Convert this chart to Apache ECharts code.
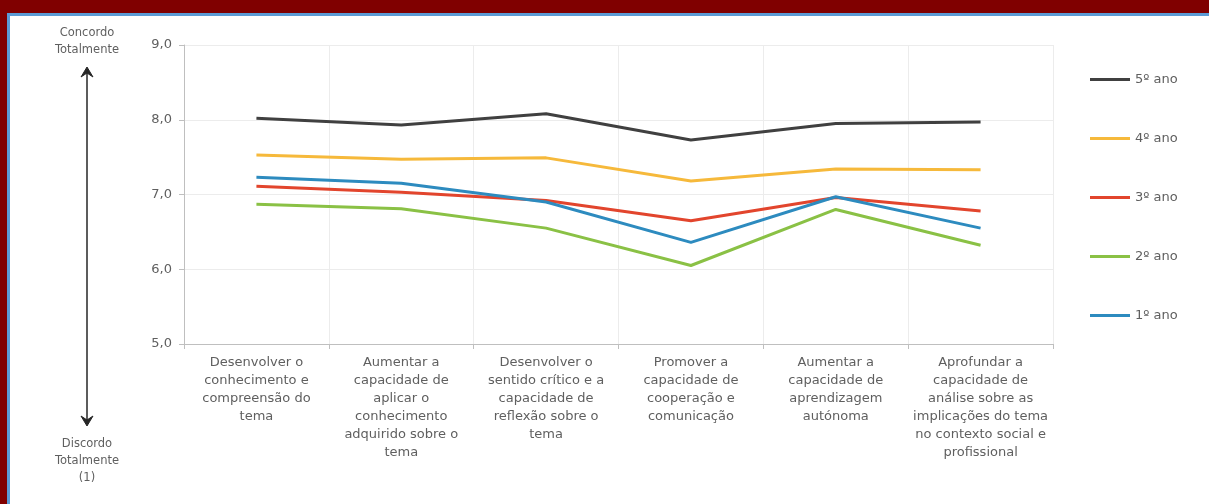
<!DOCTYPE html>
<html>
<head>
<meta charset="utf-8">
<script src="https://cdn.jsdelivr.net/npm/echarts@6/dist/echarts.min.js"></script>
<style>
  html, body { margin: 0; padding: 0; background: #ffffff; }
  #frame { position: absolute; left: 0; top: 0; width: 1209px; height: 504px; background: #ffffff; }
  #topbar { position: absolute; left: 0; top: 0; width: 1209px; height: 13px; background: #800000; }
  #topline { position: absolute; left: 7px; top: 13px; width: 1202px; height: 3px; background: #5b9bd5; }
  #leftbar { position: absolute; left: 0; top: 0; width: 7px; height: 504px; background: #800000; }
  #leftline { position: absolute; left: 7px; top: 13px; width: 3px; height: 491px; background: #5b9bd5; }
  #chart { position: absolute; left: 0; top: 0; width: 1209px; height: 504px; }
</style>
</head>
<body>
<div id="frame">
  <div id="chart"></div>
  <div id="topbar"></div>
  <div id="leftbar"></div>
  <div id="topline"></div>
  <div id="leftline"></div>
</div>
<script>
// Survey items (x axis)
const categories = [
  'Desenvolver o\nconhecimento e\ncompreensão do\ntema',
  'Aumentar a\ncapacidade de\naplicar o\nconhecimento\nadquirido sobre o\ntema',
  'Desenvolver o\nsentido crítico e a\ncapacidade de\nreflexão sobre o\ntema',
  'Promover a\ncapacidade de\ncooperação e\ncomunicação',
  'Aumentar a\ncapacidade de\naprendizagem\nautónoma',
  'Aprofundar a\ncapacidade de\nanálise sobre as\nimplicações do tema\nno contexto social e\nprofissional'
];

// Mean scores per school year
const ano5 = [8.02, 7.93, 8.08, 7.73, 7.95, 7.97];
const ano4 = [7.53, 7.47, 7.49, 7.18, 7.34, 7.33];
const ano3 = [7.11, 7.03, 6.92, 6.65, 6.96, 6.78];
const ano2 = [6.87, 6.81, 6.55, 6.05, 6.80, 6.32];
const ano1 = [7.23, 7.15, 6.90, 6.36, 6.97, 6.55];

const seriesNames = ['5º ano', '4º ano', '3º ano', '2º ano', '1º ano'];
const seriesColors = ['#404040', '#f6b93b', '#e2452d', '#8ac145', '#2d8bbf'];
const seriesData = [ano5, ano4, ano3, ano2, ano1];

// Value axis range
const yMin = 5, yMax = 9, yStep = 1;

const textGray = '#5f5f5f';
const font = '"DejaVu Sans", Verdana, sans-serif';

const chart = echarts.init(document.getElementById('chart'), null, { renderer: 'canvas' });

chart.setOption({
  backgroundColor: 'transparent',
  animation: false,
  grid: { left: 184, right: 156, top: 45, bottom: 160, containLabel: false },
  legend: {
    orient: 'vertical',
    left: 1090,
    top: 73,
    padding: 0,
    itemWidth: 40,
    itemHeight: 3,
    itemGap: 46,
    icon: 'rect',
    textStyle: { color: textGray, fontSize: 13, fontFamily: font },
    data: seriesNames
  },
  xAxis: {
    type: 'category',
    data: categories,
    boundaryGap: true,
    axisLine: { show: true, lineStyle: { color: '#bfbfbf', width: 1 } },
    axisTick: { show: true, length: 5, lineStyle: { color: '#bfbfbf' } },
    splitLine: { show: true, lineStyle: { color: '#ececec', width: 1 } },
    axisLabel: {
      interval: 0,
      margin: 10,
      color: textGray,
      fontSize: 13,
      lineHeight: 18,
      fontFamily: font
    }
  },
  yAxis: {
    type: 'value',
    min: yMin,
    max: yMax,
    interval: yStep,
    axisLine: { show: true, lineStyle: { color: '#bfbfbf', width: 1 } },
    axisTick: { show: true, length: 5, lineStyle: { color: '#bfbfbf' } },
    splitLine: { show: true, lineStyle: { color: '#ececec', width: 1 } },
    axisLabel: {
      margin: 12,
      color: textGray,
      fontSize: 13,
      fontFamily: font,
      formatter: v => v.toFixed(1).replace('.', ',')
    }
  },
  series: seriesNames.map((name, i) => ({
    name: name,
    type: 'line',
    data: seriesData[i],
    symbol: 'none',
    color: seriesColors[i],
    lineStyle: { width: 3, color: seriesColors[i] }
  })),
  graphic: [
    // agreement scale annotation on the left
    {
      type: 'text',
      style: {
        x: 87, y: 42, text: 'Concordo\nTotalmente', align: 'center', verticalAlign: 'middle',
        fill: textGray, font: '11.5px ' + font, lineHeight: 17
      }
    },
    {
      type: 'line',
      shape: { x1: 87, y1: 69, x2: 87, y2: 424 },
      style: { stroke: '#262626', lineWidth: 1.5 }
    },
    {
      type: 'polygon',
      shape: { points: [[81, 77], [87, 67], [93, 77], [87, 73]] },
      style: { fill: '#262626', stroke: '#262626', lineWidth: 1 }
    },
    {
      type: 'polygon',
      shape: { points: [[81, 416], [87, 426], [93, 416], [87, 420]] },
      style: { fill: '#262626', stroke: '#262626', lineWidth: 1 }
    },
    {
      type: 'text',
      style: {
        x: 87, y: 461, text: 'Discordo\nTotalmente\n(1)', align: 'center', verticalAlign: 'middle',
        fill: textGray, font: '11.5px ' + font, lineHeight: 17
      }
    }
  ]
});
</script>
</body>
</html>
